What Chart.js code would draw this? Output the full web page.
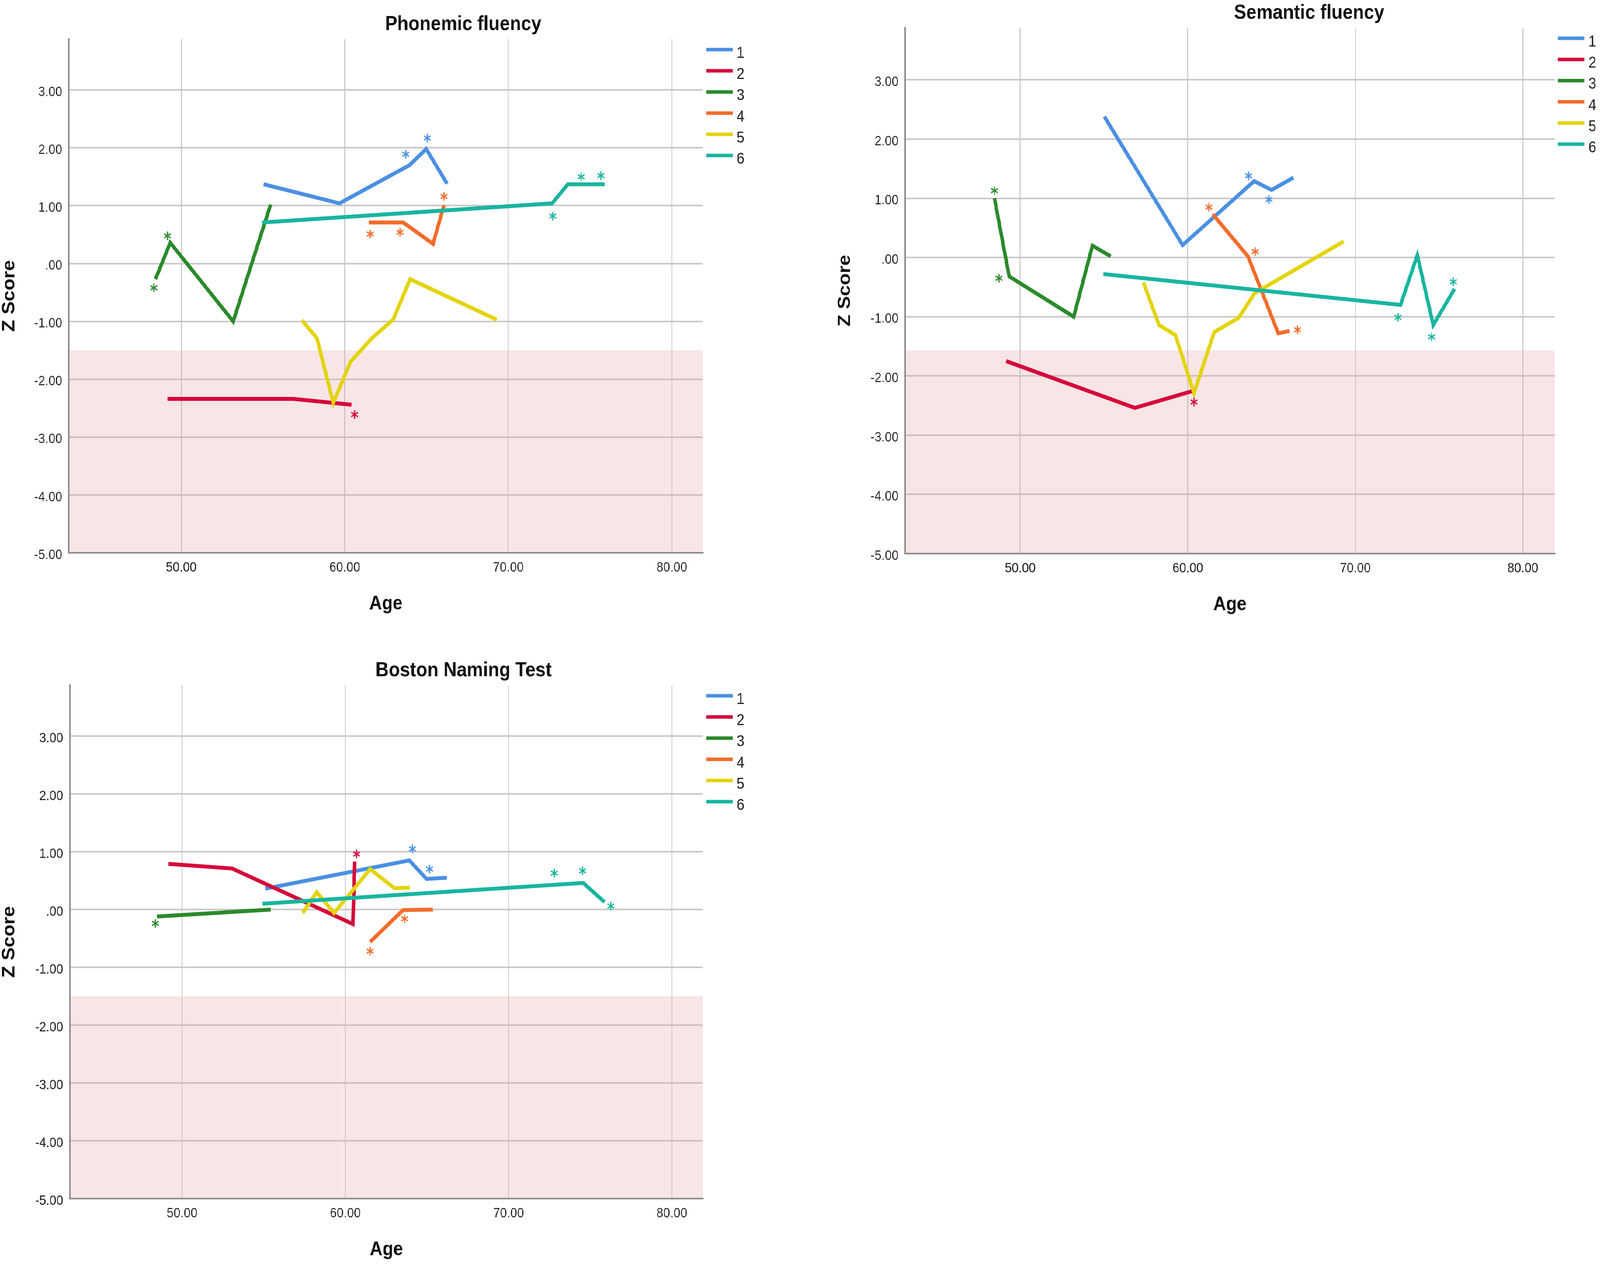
<!DOCTYPE html>
<html>
<head>
<meta charset="utf-8">
<script src="https://cdn.jsdelivr.net/npm/chart.js@4.4.0/dist/chart.umd.min.js"></script>
<style>
  html, body { margin: 0; padding: 0; background: #ffffff; overflow: hidden; }
  #wrap { position: absolute; left: 0; top: 0; width: 4557px; height: 3238px; transform-origin: 0 0; background: #ffffff; }
  canvas { position: absolute; }
</style>
</head>
<body>
<div id="wrap">
<canvas id="phonemic" width="2250" height="1620" style="left:0px;top:0px;width:2250px;height:1620px"></canvas>
<canvas id="semantic" width="2177" height="1620" style="left:2380px;top:0px;width:2177px;height:1620px"></canvas>
<canvas id="boston" width="2250" height="1598" style="left:0px;top:1640px;width:2250px;height:1598px"></canvas>
</div>
<script>
// ---------- categories / ticks ----------
const groupLabels = ['1', '2', '3', '4', '5', '6'];
const ageTickValues = [50, 60, 70, 80];
const ageTickLabels = ['50.00', '60.00', '70.00', '80.00'];
const zTickValues = [-5, -4, -3, -2, -1, 0, 1, 2, 3];
const zTickLabels = ['-5.00', '-4.00', '-3.00', '-2.00', '-1.00', '.00', '1.00', '2.00', '3.00'];
const ageRange = [43.13, 81.9];
const zRange = [-5, 3.88];

// ---------- Phonemic fluency: [age, z] ----------
const phon1 = [[55.04, 1.37], [59.68, 1.04], [63.96, 1.70], [64.98, 1.98], [66.26, 1.38]];
const phon2 = [[49.16, -2.34], [56.86, -2.34], [60.41, -2.44]];
const phon3 = [[48.43, -0.27], [49.33, 0.36], [53.18, -1.00], [55.47, 1.02]];
const phon4 = [[61.47, 0.71], [63.58, 0.71], [65.40, 0.34], [66.07, 1.01]];
const phon5 = [[57.38, -0.98], [58.30, -1.29], [59.30, -2.41], [60.35, -1.70], [61.66, -1.29], [62.96, -0.97], [64.00, -0.27], [69.29, -0.97]];
const phon6 = [[54.95, 0.71], [72.68, 1.04], [73.64, 1.37], [75.89, 1.37]];
const phonStar1 = [[63.73, 1.89], [65.05, 2.17]];
const phonStar2 = [[60.60, -2.61]];
const phonStar3 = [[49.16, 0.48], [48.33, -0.42]];
const phonStar4 = [[61.56, 0.51], [63.38, 0.54], [66.07, 1.16]];
const phonStar5 = [];
const phonStar6 = [[72.72, 0.82], [74.45, 1.50], [75.66, 1.52]];
const phonCutoff = -1.5;

// ---------- Semantic fluency ----------
const sem1 = [[55.02, 2.38], [59.69, 0.21], [63.96, 1.29], [65.00, 1.14], [66.31, 1.35]];
const sem2 = [[49.16, -1.75], [56.84, -2.54], [60.23, -2.26]];
const sem3 = [[48.46, 1.00], [49.34, -0.32], [53.19, -1.00], [54.31, 0.20], [55.40, 0.02]];
const sem4 = [[61.49, 0.73], [63.59, 0.02], [65.40, -1.28], [66.08, -1.24]];
const sem5 = [[57.35, -0.42], [58.28, -1.14], [59.26, -1.31], [60.37, -2.29], [61.58, -1.26], [63.03, -1.02], [64.00, -0.60], [69.30, 0.27]];
const sem6 = [[54.96, -0.28], [72.70, -0.80], [73.70, 0.04], [74.65, -1.14], [75.92, -0.53]];
const semStar1 = [[63.63, 1.38], [64.85, 0.98]];
const semStar2 = [[60.37, -2.44]];
const semStar3 = [[48.46, 1.13], [48.73, -0.35]];
const semStar4 = [[61.26, 0.85], [64.02, 0.10], [66.55, -1.22]];
const semStar5 = [];
const semStar6 = [[72.55, -1.01], [74.55, -1.34], [75.85, -0.41]];
const semCutoff = -1.57;

// ---------- Boston Naming Test ----------
const bnt1 = [[55.09, 0.36], [63.92, 0.85], [64.97, 0.53], [66.22, 0.55]];
const bnt2 = [[49.17, 0.79], [53.07, 0.71], [60.46, -0.25], [60.58, 0.83]];
const bnt3 = [[48.46, -0.12], [55.43, 0.00]];
const bnt4 = [[61.52, -0.56], [63.53, -0.01], [65.36, 0.00]];
const bnt5 = [[57.39, -0.06], [58.25, 0.30], [59.31, -0.06], [61.52, 0.70], [63.00, 0.37], [63.95, 0.38]];
const bnt6 = [[54.93, 0.10], [74.57, 0.46], [75.87, 0.13]];
const bntStar1 = [[64.11, 1.05], [65.16, 0.70]];
const bntStar2 = [[60.69, 0.96]];
const bntStar3 = [[48.37, -0.24]];
const bntStar4 = [[61.52, -0.72], [63.63, -0.16]];
const bntStar5 = [];
const bntStar6 = [[72.80, 0.63], [74.53, 0.67], [76.26, 0.06]];
const bntCutoff = -1.5;

// ---------- fit the 4557x3238 design to the actual viewport ----------
(function fitPage() {
  const W = 4557, H = 3238;
  let sx = window.innerWidth / W, sy = window.innerHeight / H;
  if (!isFinite(sx) || sx <= 0.05) sx = 1;
  if (!isFinite(sy) || sy <= 0.05) sy = 1;
  document.getElementById('wrap').style.transform = 'scale(' + sx + ',' + sy + ')';
  document.documentElement.style.width = window.innerWidth + 'px';
  document.documentElement.style.height = window.innerHeight + 'px';
})();

// ---------- styles ----------
const groupColors = ['#4A90E2', '#D6083B', '#2B8A2B', '#F36C2B', '#E3D40A', '#19B5A0'];
const FONT = '"Liberation Sans", Arial, Helvetica, sans-serif';
Chart.defaults.font.family = FONT;
Chart.defaults.color = '#222222';

function starImage(color) {
  const c = document.createElement('canvas');
  c.width = 28; c.height = 28;
  const g = c.getContext('2d');
  g.strokeStyle = color;
  g.lineWidth = 3.4;
  const r = 11, cx = 14, cy = 14;
  for (let k = 0; k < 3; k++) {
    const a = Math.PI / 2 + k * Math.PI / 3;
    g.beginPath();
    g.moveTo(cx + r * Math.cos(a), cy + r * Math.sin(a));
    g.lineTo(cx - r * Math.cos(a), cy - r * Math.sin(a));
    g.stroke();
  }
  return c;
}

const toXY = pts => pts.map(p => ({ x: p[0], y: p[1] }));

const decor = {
  id: 'decor',
  beforeDatasetsDraw(chart, args, o) {
    const { ctx, chartArea: a, scales: { y } } = chart;
    const top = y.getPixelForValue(o.bandTop);
    const bot = y.getPixelForValue(y.min);
    ctx.save();
    ctx.fillStyle = 'rgba(231,160,167,0.28)';
    ctx.fillRect(a.left + 2, top, a.right - a.left - 2, bot - top - 2);
    ctx.restore();
  },
  afterDraw(chart, args, o) {
    const { ctx, chartArea: a } = chart;
    ctx.save();
    ctx.fillStyle = '#111111';
    ctx.font = 'bold 52px ' + FONT;
    ctx.textAlign = 'center';
    ctx.textBaseline = 'alphabetic';
    ctx.fillText(o.title, a.left + 0.622 * (a.right - a.left), a.top - 23);
    ctx.font = '40px ' + FONT;
    ctx.textAlign = 'left';
    chart.data.datasets.filter(d => !d.isStar).forEach((d, i) => {
      const yy = a.top + 27 + i * 54.2;
      ctx.fillStyle = d.borderColor;
      ctx.fillRect(a.right + 9, yy - 4.5, 76, 9);
      ctx.fillStyle = '#222222';
      ctx.fillText(d.label, a.right + 96, yy + 7 + 14);
    });
    ctx.restore();
  }
};

function makeChart(id, title, bandTop, series, stars, yAxisWidth, pad) {
  const datasets = series.map((pts, i) => ({
    label: groupLabels[i],
    data: toXY(pts),
    borderColor: groupColors[i],
    backgroundColor: groupColors[i],
    borderWidth: 10,
    pointRadius: 0,
    pointHoverRadius: 0,
    tension: 0,
    fill: false,
    borderJoinStyle: 'miter',
    borderCapStyle: 'butt',
    order: series.length - i
  }));
  stars.forEach((pts, i) => {
    if (!pts.length) return;
    datasets.push({
      label: '*' + groupLabels[i],
      isStar: true,
      data: toXY(pts),
      showLine: false,
      pointStyle: starImage(groupColors[i]),
      pointRadius: 11,
      pointHoverRadius: 11,
      borderColor: groupColors[i],
      backgroundColor: groupColors[i],
      order: -1
    });
  });

  return new Chart(document.getElementById(id), {
    type: 'line',
    data: { datasets },
    options: {
      responsive: false,
      animation: false,
      devicePixelRatio: 1,
      events: [],
      layout: { padding: pad },
      plugins: {
        legend: { display: false },
        title: { display: false },
        tooltip: { enabled: false },
        decor: { title, bandTop }
      },
      scales: {
        x: {
          type: 'linear',
          position: 'bottom',
          min: ageRange[0],
          max: ageRange[1],
          bounds: 'data',
          afterBuildTicks: s => { s.ticks = ageTickValues.map(v => ({ value: v })); },
          afterFit: s => { s.height = 165; },
          ticks: {
            callback: (v, i) => ageTickLabels[i],
            padding: 17,
            font: { size: 35 },
            color: '#222222',
            maxRotation: 0,
            autoSkip: false
          },
          grid: { color: '#cccccc', lineWidth: 3, drawTicks: false },
          border: { display: true, color: '#8c8c8c', width: 4 },
          title: {
            display: true,
            text: 'Age',
            color: '#111111',
            font: { size: 50, weight: 'bold', lineHeight: 1.1 },
            padding: { top: 0, bottom: 6 }
          }
        },
        y: {
          type: 'linear',
          position: 'left',
          min: zRange[0],
          max: zRange[1],
          bounds: 'data',
          afterBuildTicks: s => { s.ticks = zTickValues.map(v => ({ value: v })); },
          afterFit: s => { s.width = yAxisWidth; },
          ticks: {
            callback: (v, i) => zTickLabels[i],
            padding: 19,
            labelOffset: 6,
            font: { size: 35 },
            color: '#222222',
            autoSkip: false
          },
          grid: { color: '#c8c8c8', lineWidth: 4, drawTicks: false },
          border: { display: true, color: '#8c8c8c', width: 4 },
          title: {
            display: true,
            text: 'Z Score',
            color: '#111111',
            font: { size: 50, weight: 'bold', lineHeight: 1.1 },
            padding: { top: 0, bottom: 0 }
          }
        }
      }
    },
    plugins: [decor]
  });
}

makeChart('phonemic', 'Phonemic fluency', phonCutoff,
  [phon1, phon2, phon3, phon4, phon5, phon6],
  [phonStar1, phonStar2, phonStar3, phonStar4, phonStar5, phonStar6],
  196, { left: 0, top: 100, right: 248, bottom: 40 });

makeChart('semantic', 'Semantic fluency', semCutoff,
  [sem1, sem2, sem3, sem4, sem5, sem6],
  [semStar1, semStar2, semStar3, semStar4, semStar5, semStar6],
  198, { left: 0, top: 71, right: 129, bottom: 38 });

makeChart('boston', 'Boston Naming Test', bntCutoff,
  [bnt1, bnt2, bnt3, bnt4, bnt5, bnt6],
  [bntStar1, bntStar2, bntStar3, bntStar4, bntStar5, bntStar6],
  199, { left: 0, top: 114, right: 248, bottom: 5 });
</script>
</body>
</html>
